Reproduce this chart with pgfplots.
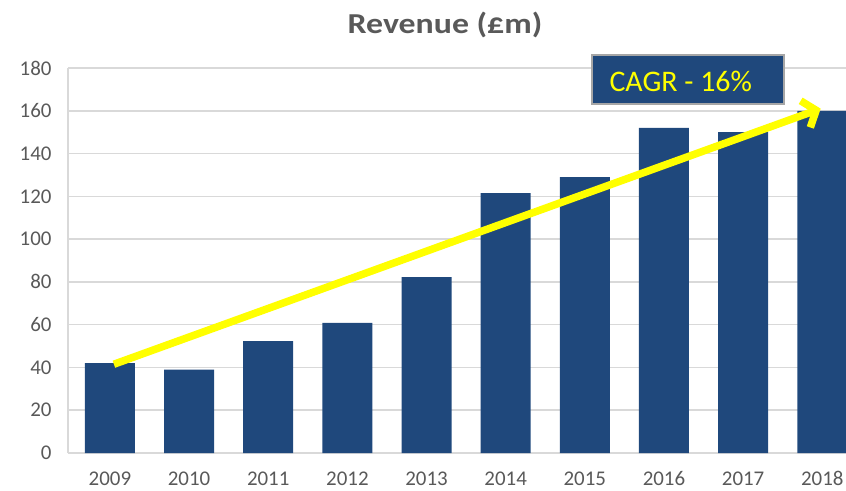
\documentclass[border=0pt]{standalone}
\usepackage{pgfplots}
\pgfplotsset{compat=1.18}
\usepackage{fontspec}
\setmainfont{Carlito}
\newfontfamily\titlefont[FakeStretch=1.17]{Carlito}
\usetikzlibrary{arrows.meta}
\definecolor{barblue}{HTML}{1F487C}
\definecolor{txtgrey}{HTML}{595959}
\definecolor{gridgrey}{HTML}{D9D9D9}
\definecolor{boxedge}{HTML}{A6A6A6}
\definecolor{arrowyellow}{HTML}{FFFF00}
\begin{document}
\begin{tikzpicture}
\useasboundingbox (0,0) rectangle (846bp,491bp);
\begin{axis}[
  at={(68bp,38bp)}, anchor=south west,
  scale only axis, width=778bp, height=385bp,
  xmin=-0.53, xmax=9.3, ymin=0, ymax=180,
  ytick={0,20,...,180},
  xtick={0,...,9},
  xticklabels={2009,2010,2011,2012,2013,2014,2015,2016,2017,2018},
  ymajorgrids, grid style={gridgrey, line width=1.5bp},
  axis line style={gridgrey, line width=1.5bp},
  axis x line=bottom, axis y line=left,
  x axis line style={-}, y axis line style={-},
  major tick length=0pt,
  tick label style={txtgrey, font=\fontsize{21}{25}\selectfont},
  /pgf/number format/assume math mode=true,
  yticklabel style={xshift=-13bp},
  xticklabel style={yshift=-15bp},
  clip=false,
]
\addplot[ybar, bar width=50bp, fill=barblue, draw=none] coordinates {
(0,42) (1,39) (2,52.3) (3,60.8) (4,82.2) (5,121.5) (6,129) (7,152) (8,150) (9,160)};
\draw[arrowyellow, line width=7.5bp, -{Straight Barb[length=4mm, width=10mm, line width=7.5bp]}]
  (axis cs:0.05,41.5) -- (axis cs:8.98,161);
\end{axis}
\node[txtgrey, font=\fontsize{29}{33}\titlefont\bfseries] at (445bp,466bp) {Revenue (£m)};
\draw[fill=barblue, draw=boxedge, line width=2bp] (592bp,387bp) rectangle (784bp,436bp);
\node[anchor=west, text=arrowyellow, font=\fontsize{30}{34}\selectfont] at (606bp,410bp) {CAGR - 16\%};
\end{tikzpicture}
\end{document}
